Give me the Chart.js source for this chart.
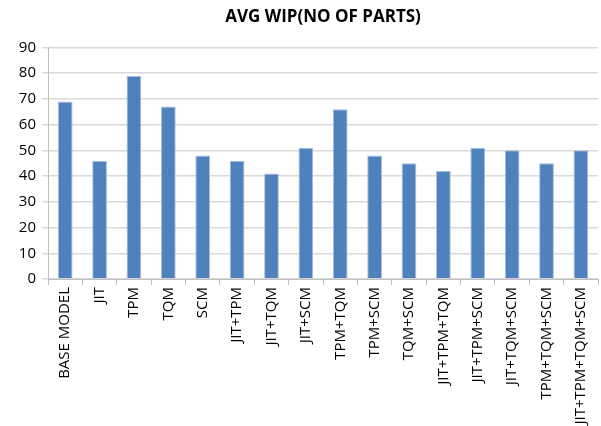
<!DOCTYPE html>
<html lang="en">
<head>
  <meta charset="UTF-8" />
  <title>AVG WIP (NO OF PARTS)</title>
  <script src="https://cdn.jsdelivr.net/npm/chart.js"></script>
  <style>
    * { box-sizing: border-box; margin: 0; padding: 0; }
    body { background: #fff; width: 601px; height: 426px; overflow: hidden; }
    #wrap { position: relative; width: 601px; height: 426px; }
  </style>
</head>
<body>
  <div id="wrap"><canvas id="wipChart"></canvas></div>
  <script>
    // scenario names on the x axis
    const scenarios = [
      'BASE MODEL', 'JIT', 'TPM', 'TQM', 'SCM',
      'JIT+TPM', 'JIT+TQM', 'JIT+SCM', 'TPM+TQM', 'TPM+SCM', 'TQM+SCM',
      'JIT+TPM+TQM', 'JIT+TPM+SCM', 'JIT+TQM+SCM', 'TPM+TQM+SCM', 'JIT+TPM+TQM+SCM'
    ];
    // average work in process, number of parts
    const avgWip = [69, 46, 79, 67, 48, 46, 41, 51, 66, 48, 45, 42, 51, 50, 45, 50];
    const yMin = 0, yMax = 90, yStep = 10;

    const ctx = document.getElementById('wipChart').getContext('2d');
    new Chart(ctx, {
      type: 'bar',
      data: {
        labels: scenarios,
        datasets: [{
          label: 'AVG WIP',
          data: avgWip,
          backgroundColor: '#4F81BD',
          borderColor: '#A7C0DE',
          borderWidth: 1,
          barPercentage: 0.43,
          categoryPercentage: 1.0
        }]
      },
      options: {
        responsive: true,
        maintainAspectRatio: false,
        animation: false,
        layout: { padding: { top: 4, left: 4, right: 1, bottom: 0 } },
        plugins: {
          legend: { display: false },
          tooltip: { enabled: false },
          title: {
            display: true,
            fullSize: false,
            text: 'AVG WIP(NO OF PARTS)',
            color: '#000',
            font: { family: 'Open Sans', size: 17, weight: 'bold' },
            padding: { top: 3, bottom: 20 }
          }
        },
        scales: {
          x: {
            grid: { offset: true, drawOnChartArea: false, tickLength: 6, color: '#BFBFBF' },
            border: { color: '#BFBFBF' },
            ticks: {
              color: '#000',
              font: { family: 'Open Sans', size: 15 },
              maxRotation: 90,
              minRotation: 90,
              autoSkip: false,
              padding: 2
            },
            afterFit: (scale) => { scale.height = 147; }
          },
          y: {
            min: yMin,
            max: yMax,
            grid: { color: '#D9D9D9', tickLength: 6, lineWidth: 1.5 },
            border: { color: '#BFBFBF' },
            ticks: {
              stepSize: yStep,
              color: '#000',
              font: { family: 'Open Sans', size: 15 },
              padding: 6
            },
            afterFit: (scale) => { scale.width = 44; }
          }
        }
      }
    });
  </script>
</body>
</html>
